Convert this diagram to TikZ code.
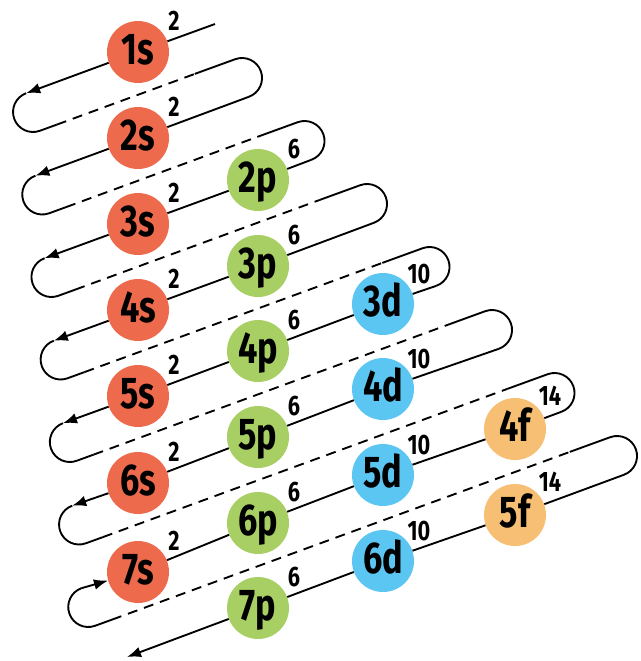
\documentclass[tikz,border=0pt]{standalone}
\usepackage{fontspec}
\setmainfont{Fira Sans}[FakeStretch=0.77]
\usepackage{tikz}
\usetikzlibrary{calc, arrows.meta}

\definecolor{scol}{HTML}{EE6A4D}
\definecolor{pcol}{HTML}{A8CF63}
\definecolor{dcol}{HTML}{5CC6F2}
\definecolor{fcol}{HTML}{F7BF73}

\begin{document}
\begin{tikzpicture}[x=0.3mm, y=0.3mm,
    orb/.style={circle, minimum size=18.6mm, inner sep=0pt, font=\bfseries\fontsize{38}{38}\selectfont, text height=21pt, text depth=0pt},
    num/.style={inner sep=0pt, font=\bfseries\fontsize{24}{24}\selectfont},
    loopline/.style={line width=1.6pt},
    dashline/.style={line width=1.6pt, dash pattern=on 3mm off 2.1mm},
    arrowend/.style={-{Latex[length=4.2mm, width=3.2mm]}}]

        \useasboundingbox (0,0) rectangle (641,-661);

        % s
        \node[orb, fill=scol] (o1s) at (138,-52) {1s};
        \node[orb, fill=scol] (o2s) at (138,-138) {2s};
        \node[orb, fill=scol] (o3s) at (138,-224) {3s};
        \node[orb, fill=scol] (o4s) at (138,-310) {4s};
        \node[orb, fill=scol] (o5s) at (138,-396) {5s};
        \node[orb, fill=scol] (o6s) at (138,-483) {6s};
        \node[orb, fill=scol] (o7s) at (138,-572) {7s};
        % p
        \node[orb, fill=pcol] (o2p) at (258,-180) {2p};
        \node[orb, fill=pcol] (o3p) at (258,-266) {3p};
        \node[orb, fill=pcol] (o4p) at (258,-351) {4p};
        \node[orb, fill=pcol] (o5p) at (258,-437) {5p};
        \node[orb, fill=pcol] (o6p) at (258,-523) {6p};
        \node[orb, fill=pcol] (o7p) at (258,-608) {7p};
        % d
        \node[orb, fill=dcol] (o3d) at (383,-304) {3d};
        \node[orb, fill=dcol] (o4d) at (383,-389) {4d};
        \node[orb, fill=dcol] (o5d) at (383,-475) {5d};
        \node[orb, fill=dcol] (o6d) at (383,-561) {6d};
        % f
        \node[orb, fill=fcol] (o4f) at (515,-429) {4f};
        \node[orb, fill=fcol] (o5f) at (515,-515) {5f};

        % Elektronenzahlen
        \node[num] (n1s) at ($(o1s)+(36,31)$) {2};
        \node[num] (n2s) at ($(o2s)+(36,31)$) {2};
        \node[num] (n3s) at ($(o3s)+(36,31)$) {2};
        \node[num] (n4s) at ($(o4s)+(36,31)$) {2};
        \node[num] (n5s) at ($(o5s)+(36,31)$) {2};
        \node[num] (n6s) at ($(o6s)+(36,31)$) {2};
        \node[num] (n7s) at ($(o7s)+(36,31)$) {2};
        \node[num] (n2p) at ($(o2p)+(36,31)$) {6};
        \node[num] (n3p) at ($(o3p)+(36,31)$) {6};
        \node[num] (n4p) at ($(o4p)+(36,31)$) {6};
        \node[num] (n5p) at ($(o5p)+(36,31)$) {6};
        \node[num] (n6p) at ($(o6p)+(36,31)$) {6};
        \node[num] (n7p) at ($(o7p)+(36,31)$) {6};
        \node[num] (n3d) at ($(o3d)+(36,30)$) {10};
        \node[num] (n4d) at ($(o4d)+(36,30)$) {10};
        \node[num] (n5d) at ($(o5d)+(36,30)$) {10};
        \node[num] (n6d) at ($(o6d)+(36,30)$) {10};
        \node[num] (n4f) at ($(o4f)+(35,33)$) {14};
        \node[num] (n5f) at ($(o5f)+(35,33)$) {14};

        % Wendepunkte links (a) und rechts (c)
        \coordinate (st) at (215,-24);
        \coordinate (a1) at (26.2,-93.2);
        \coordinate (a2) at (35.4,-175.7);
        \coordinate (a3) at (44.6,-258.2);
        \coordinate (a4) at (53.8,-340.7);
        \coordinate (a5) at (63.0,-423.2);
        \coordinate (a6) at (72.2,-505.7);
        \coordinate (a7) at (81.4,-588.2);
        \coordinate (c1) at (235.2,-59.2);
        \coordinate (c2) at (297.7,-122.2);
        \coordinate (c3) at (360.2,-185.2);
        \coordinate (c4) at (422.7,-248.2);
        \coordinate (c5) at (485.2,-311.2);
        \coordinate (c6) at (547.7,-374.2);
        \coordinate (c7) at (610.2,-437.2);
        \coordinate (en) at (127,-657);

        % 1s
        \draw[loopline, arrowend] (st) -- (o1s) -- (a1);
        \draw[loopline] (a1) arc[start angle=110, end angle=290, radius=6mm] -- ++(20:18) coordinate (b1);
        \draw[loopline] ($(c1)+(200:43)$) coordinate (e1) -- (c1) arc[start angle=110, end angle=-70, radius=6mm] coordinate (d1);
        \draw[dashline] (b1) -- (e1);

        % 2s
        \draw[loopline, arrowend] (d1) -- (o2s) -- (a2);
        \draw[loopline] (a2) arc[start angle=110, end angle=290, radius=6mm] -- ++(20:18) coordinate (b2);
        \draw[loopline] ($(c2)+(200:43)$) coordinate (e2) -- (c2) arc[start angle=110, end angle=-70, radius=6mm] coordinate (d2);
        \draw[dashline] (b2) -- (e2);

        % 2p 3s
        \draw[loopline, arrowend] (d2) -- (o2p) -- (o3s) -- (a3);
        \draw[loopline] (a3) arc[start angle=110, end angle=290, radius=6mm] -- ++(20:18) coordinate (b3);
        \draw[loopline] ($(c3)+(200:43)$) coordinate (e3) -- (c3) arc[start angle=110, end angle=-70, radius=6mm] coordinate (d3);
        \draw[dashline] (b3) -- (e3);

        % 3p 4s
        \draw[loopline, arrowend] (d3) -- (o3p) -- (o4s) -- (a4);
        \draw[loopline] (a4) arc[start angle=110, end angle=290, radius=6mm] -- ++(20:18) coordinate (b4);
        \draw[loopline] ($(c4)+(200:43)$) coordinate (e4) -- (c4) arc[start angle=110, end angle=-70, radius=6mm] coordinate (d4);
        \draw[dashline] (b4) -- (e4);

        % 3d 4p 5s
        \draw[loopline, arrowend] (d4) -- (o3d) -- (o4p) -- (o5s) -- (a5);
        \draw[loopline] (a5) arc[start angle=110, end angle=290, radius=6mm] -- ++(20:18) coordinate (b5);
        \draw[loopline] ($(c5)+(200:43)$) coordinate (e5) -- (c5) arc[start angle=110, end angle=-70, radius=6mm] coordinate (d5);
        \draw[dashline] (b5) -- (e5);

        % 4d 5p 6s
        \draw[loopline, arrowend] (d5) -- (o4d) -- (o5p) -- (o6s) -- (a6);
        \draw[loopline] (a6) arc[start angle=110, end angle=290, radius=6mm] -- ++(20:18) coordinate (b6);
        \draw[loopline] ($(c6)+(200:43)$) coordinate (e6) -- (c6) arc[start angle=110, end angle=-70, radius=6mm] coordinate (d6);
        \draw[dashline] (b6) -- (e6);

        % 4f 5d 6p 7s
        \draw[loopline] (d6) -- (o4f) -- (o5d) -- (o6p) -- (o7s);
        \draw[loopline, arrowend] (a7) -- (o7s);
        \draw[loopline] (a7) arc[start angle=110, end angle=290, radius=6mm] -- ++(20:18) coordinate (b7);
        \draw[loopline] ($(c7)+(200:43)$) coordinate (e7) -- (c7) arc[start angle=110, end angle=-70, radius=6mm] coordinate (d7);
        \draw[dashline] (b7) -- (e7);

        % 5f 6d 7p
        \draw[loopline, arrowend] (d7) -- (o5f) -- (o6d) -- (o7p) -- (en);

    \end{tikzpicture}
\end{document}
